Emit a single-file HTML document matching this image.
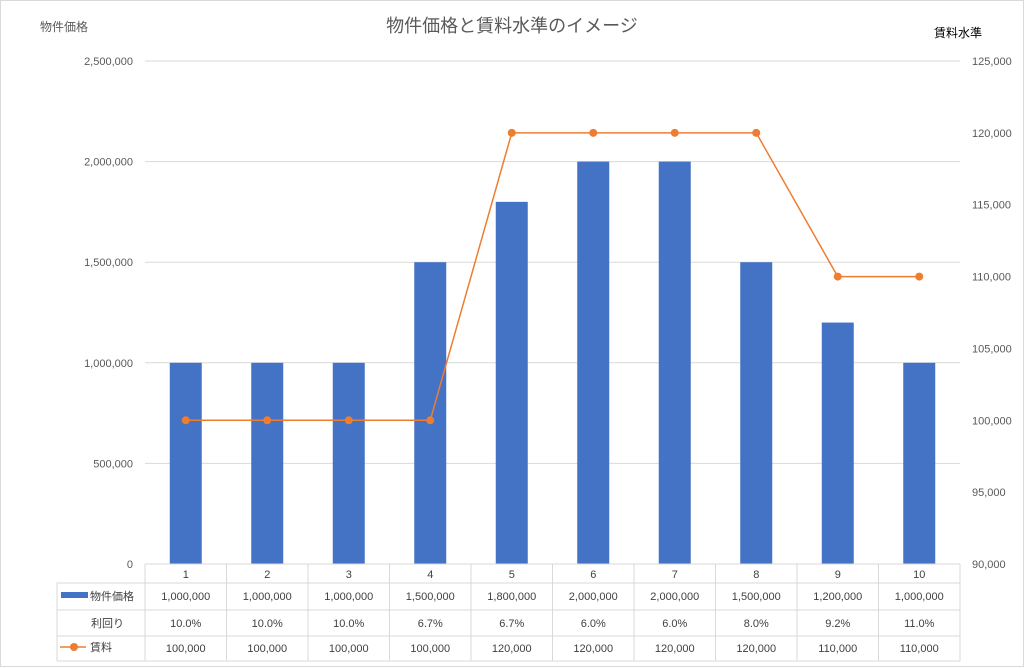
<!DOCTYPE html>
<html><head><meta charset="utf-8"><style>
body{margin:0;background:#fff}
svg{display:block;font-family:"Liberation Sans","Noto Sans CJK JP",sans-serif}
</style></head><body>
<svg width="1024" height="669" viewBox="0 0 1024 669">
<rect x="0.5" y="0.5" width="1023" height="666" fill="#fff" stroke="#d9d9d9"/>
<text x="512" y="32" text-anchor="middle" font-size="18" fill="#595959">物件価格と賃料水準のイメージ</text>
<text x="40" y="31" font-size="12" fill="#595959">物件価格</text>
<text x="934" y="37" font-size="12" fill="#000">賃料水準</text>
<g id="grid"></g><g id="bars"></g><g id="line"></g><g id="axes"></g><g id="table"></g>
</svg>
<script>
const categories=["1","2","3","4","5","6","7","8","9","10"];
const prices=[1000000,1000000,1000000,1500000,1800000,2000000,2000000,1500000,1200000,1000000];
const yields=["10.0%","10.0%","10.0%","6.7%","6.7%","6.0%","6.0%","8.0%","9.2%","11.0%"];
const rents=[100000,100000,100000,100000,120000,120000,120000,120000,110000,110000];
const leftTicks=[0,500000,1000000,1500000,2000000,2500000];
const rightTicks=[90000,95000,100000,105000,110000,115000,120000,125000];
const NS="http://www.w3.org/2000/svg";
const X0=145,X1=960,Y0=564,Y1=61;
const bw=(X1-X0)/categories.length;
const xc=i=>X0+bw*(i+0.5);
const yL=v=>Y0-(v-0)/(2500000)*(Y0-Y1);
const yR=v=>Y0-(v-90000)/(35000)*(Y0-Y1);
const fmt=v=>v.toLocaleString("en-US");
function mk(p,t,a){const e=document.createElementNS(NS,t);for(const k in a)e.setAttribute(k,a[k]);document.getElementById(p).appendChild(e);return e;}
leftTicks.forEach((v,i)=>{
 if(v>0){const g=mk("grid","line",{x1:X0,x2:X1,y1:yL(v),y2:yL(v),stroke:"#d9d9d9"});
 
 }
 const t=mk("axes","text",{x:X0-12,y:yL(v)+4,"text-anchor":"end","font-size":"11",fill:"#595959"});t.textContent=fmt(v);
 
 
});
rightTicks.forEach(v=>{
 const t=mk("axes","text",{x:972,y:yR(v)+4,"font-size":"11",fill:"#595959"});t.textContent=fmt(v);
 
 
});
prices.forEach((v,i)=>{
 const r=mk("bars","rect",{x:xc(i)-16,y:yL(v),width:32,height:Y0-yL(v),fill:"#4472c4"});
 
 
});
const pl=mk("line","polyline",{points:rents.map((v,i)=>xc(i)+","+yR(v)).join(" "),fill:"none",stroke:"#ed7d31","stroke-width":"1.5"});


rents.forEach((v,i)=>{
 const c=mk("line","circle",{cx:xc(i),cy:yR(v),r:4,fill:"#ed7d31"});
 
 
});
// table
const rows=[583,610,636,661];
const L="#d9d9d9";
function ln(x1,y1,x2,y2){const l=mk("table","line",{x1,y1,x2,y2,stroke:L});}
ln(X0,Y0,X1,Y0);
rows.forEach(y=>ln(57,y,X1,y));
ln(57,583,57,661);
for(let i=0;i<=categories.length;i++)ln(X0+bw*i,Y0,X0+bw*i,661);
function txt(x,y,s,anchor){const t=mk("table","text",{x,y,"text-anchor":anchor||"middle","font-size":"11",fill:"#404040"});t.textContent=s;return t;}
categories.forEach((c,i)=>{
 txt(xc(i),578,c);
 txt(xc(i),600,fmt(prices[i]));
 txt(xc(i),627,yields[i]);
 txt(xc(i),652,fmt(rents[i]));
});
const lb=mk("table","rect",{x:61,y:592,width:27,height:6,fill:"#4472c4"});


txt(90,600,"物件価格","start");
txt(91,627,"利回り","start");
const ll=mk("table","line",{x1:60,y1:647,x2:86,y2:647,stroke:"#ed7d31","stroke-width":"1.5"});


const lc=mk("table","circle",{cx:74,cy:647,r:4,fill:"#ed7d31"});


txt(90,651,"賃料","start");
</script>
</body></html>
